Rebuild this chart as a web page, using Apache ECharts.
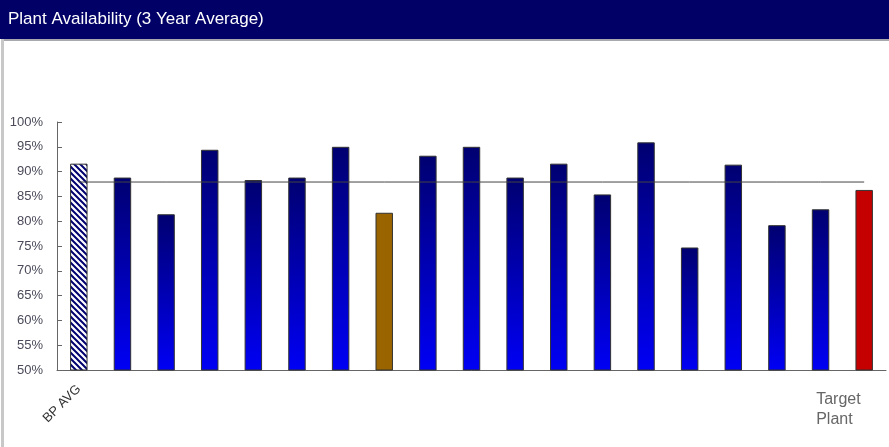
<!DOCTYPE html>
<html>
<head>
<meta charset="utf-8">
<script src="https://cdn.jsdelivr.net/npm/echarts@6/dist/echarts.min.js"></script>
<style>
html,body{margin:0;padding:0;background:#fff;}
#c{width:889px;height:447px;}
</style>
</head>
<body>
<div id="c"></div>
<script>
var categories = ['BP AVG','P1','P2','P3','P4','P5','P6','P7','P8','P9','P10','P11','P12','P13','P14','P15','P16','P17','Target Plant'];
var rotatedLabels = ['BP AVG','','','','','','','','','','','','','','','','','',''];
var flatLabels = ['','','','','','','','','','','','','','','','','','','Target\nPlant'];
var availability = [91.6, 88.8, 81.4, 94.4, 88.3, 88.8, 95.0, 81.7, 93.2, 95.0, 88.8, 91.6, 85.4, 95.9, 74.7, 91.4, 79.2, 82.4, 86.3];
var barKinds = ['avg','plant','plant','plant','plant','plant','plant','brown','plant','plant','plant','plant','plant','plant','plant','plant','plant','plant','target'];
var referenceValue = 87.9;
var yTicks = [50, 100, 5];

var pc = document.createElement('canvas');
pc.width = 6; pc.height = 6;
var g = pc.getContext('2d');
g.fillStyle = '#ffffff'; g.fillRect(0,0,6,6);
g.strokeStyle = '#000070'; g.lineWidth = 2;
g.beginPath();
g.moveTo(-3,-3); g.lineTo(9,9);
g.moveTo(-3,3); g.lineTo(3,9);
g.moveTo(3,-3); g.lineTo(9,3);
g.stroke();

var blueGrad = new echarts.graphic.LinearGradient(0,0,0,1,[{offset:0,color:'#000070'},{offset:1,color:'#0000f5'}]);
function colorFor(k){
  if(k==='avg') return {image: pc, repeat: 'repeat'};
  if(k==='brown') return '#9a6400';
  if(k==='target') return '#c40000';
  return blueGrad;
}
var barData = availability.map(function(v,i){
  return {value:v, itemStyle:{color:colorFor(barKinds[i])}};
});
var refData = categories.map(function(){return referenceValue;});

var chart = echarts.init(document.getElementById('c'), null, {renderer:'canvas'});
chart.setOption({
  animation:false,
  backgroundColor:'#ffffff',
  graphic:[
    {type:'rect', shape:{x:0,y:0,width:889,height:39}, style:{fill:'#000066'}, z:-1},
    {type:'rect', shape:{x:2,y:39,width:887,height:2}, style:{fill:'#a8a8b0'}, z:-1},
    {type:'rect', shape:{x:1,y:39,width:3,height:408}, style:{fill:'#c8c8c8'}, z:-1},
    {type:'text', left:8, top:11, style:{text:'Plant Availability (3 Year Average)', fill:'#ffffff', font:'17px "Liberation Sans", Arial, sans-serif'}}
  ],
  grid:{left:57, right:3, top:122, bottom:77},
  xAxis:[{
    type:'category', data:rotatedLabels, boundaryGap:true, position:'bottom',
    axisLine:{lineStyle:{color:'#666666'}},
    axisTick:{inside:true, length:5, lineStyle:{color:'#666666'}},
    axisLabel:{interval:0, rotate:45, margin:17, color:'#333333', fontSize:13, fontFamily:'Liberation Sans, Arial'}
  },{
    type:'category', data:flatLabels, boundaryGap:true, position:'bottom',
    axisLine:{show:false}, axisTick:{show:false},
    axisLabel:{interval:0, margin:20, align:'right',
      formatter:function(v){ if(!v) return ''; return v.split('\n').map(function(s){return '{t|'+s+'}';}).join('\n'); },
      rich:{t:{width:48, align:'left', color:'#666666', fontSize:16, lineHeight:20, fontFamily:'Liberation Sans, Arial'}}
    }
  }],
  yAxis:{
    type:'value', min:yTicks[0], max:yTicks[1], interval:yTicks[2],
    axisLine:{show:true, lineStyle:{color:'#666666'}},
    axisTick:{show:true, inside:true, length:5, lineStyle:{color:'#666666'}},
    splitLine:{show:false},
    axisLabel:{color:'#4a4a5a', fontSize:13, fontFamily:'"Liberation Sans", Arial', margin:14, formatter:'{value}%'}
  },
  series:[
    {type:'bar', data:barData, barWidth:'40%', xAxisIndex:0,
     itemStyle:{borderColor:'#333333', borderWidth:1}},
    {type:'line', data:refData, symbol:'none', silent:true, xAxisIndex:0,
     lineStyle:{color:'#444444', width:1}, z:5}
  ]
});
</script>
</body>
</html>
